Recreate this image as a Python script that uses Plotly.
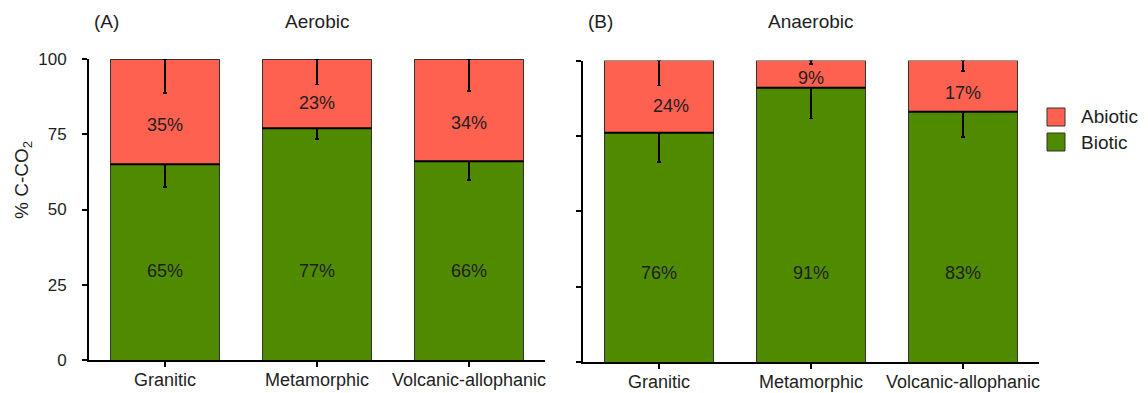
import plotly.graph_objects as go

# Soil types and CO2 partition (% of C-CO2) under each incubation condition
soils = ["Granitic", "Metamorphic", "Volcanic-allophanic"]

aerobic_biotic = [65, 77, 66]
aerobic_abiotic = [35, 23, 34]
aerobic_biotic_err = [7.5, 3.6, 6.2]
aerobic_abiotic_err = [11.3, 8.4, 10.6]

anaerobic_biotic = [76, 91, 83]
anaerobic_abiotic = [24, 9, 17]
anaerobic_biotic_err = [9.6, 10.3, 8.4]
anaerobic_abiotic_err = [8.3, 1.2, 3.4]

y_ticks = [0, 25, 50, 75, 100]

RED = "#FF6150"
GREEN = "#508A00"
TEXT = "#1e1e1e"
FONT = "Liberation Sans, Arial, sans-serif"
BAR_W = 0.72

W, H = 1148, 393


def px_x(p):
    return p / W


def px_y(p):
    return 1 - p / H


def text_ann(x, y, text, size, xref="paper", yref="paper", xanchor="center", **kw):
    return dict(x=x, y=y, xref=xref, yref=yref, text=text, showarrow=False,
                xanchor=xanchor, yanchor="middle",
                font=dict(size=size, color=TEXT, family=FONT), **kw)


panels = [
    dict(bio=aerobic_biotic, abio=aerobic_abiotic,
         bio_err=aerobic_biotic_err, abio_err=aerobic_abiotic_err,
         xa="x", ya="y", xd=[px_x(89), px_x(545)], yd=[px_y(360), px_y(59)],
         tag="(A)", title="Aerobic", shift=[0, 0, 0]),
    dict(bio=anaerobic_biotic, abio=anaerobic_abiotic,
         bio_err=anaerobic_biotic_err, abio_err=anaerobic_abiotic_err,
         xa="x2", ya="y2", xd=[px_x(583), px_x(1039)], yd=[px_y(362), px_y(60.5)],
         tag="(B)", title="Anaerobic", shift=[12, 0, 0]),
]

fig = go.Figure()
annotations = []
shapes = []

for p in panels:
    idx = list(range(len(soils)))
    fig.add_trace(go.Bar(
        x=idx, y=p["bio"], xaxis=p["xa"], yaxis=p["ya"], width=BAR_W,
        name="Biotic", showlegend=False,
        marker=dict(color=GREEN, line=dict(color="#333333", width=1)),
        error_y=dict(type="data", symmetric=False, array=[0] * 3,
                     arrayminus=p["bio_err"], color="black", thickness=1.5, width=2),
    ))
    fig.add_trace(go.Bar(
        x=idx, y=p["abio"], xaxis=p["xa"], yaxis=p["ya"], width=BAR_W,
        name="Abiotic", showlegend=False,
        marker=dict(color=RED, line=dict(color="#333333", width=1)),
        error_y=dict(type="data", symmetric=False, array=[0] * 3,
                     arrayminus=p["abio_err"], color="black", thickness=1.5, width=2),
    ))

    xref = p["xa"]
    yref = p["ya"]
    for i, (b, a) in enumerate(zip(p["bio"], p["abio"])):
        # boundary between biotic and abiotic segments
        shapes.append(dict(type="line", xref=xref, yref=yref,
                           x0=i - BAR_W / 2, x1=i + BAR_W / 2, y0=b, y1=b,
                           line=dict(color="black", width=2)))
        annotations.append(text_ann(i, 29.5, f"{b}%", 18, xref=xref, yref=yref))
        annotations.append(text_ann(i, b + 0.37 * a, f"{a}%", 18, xref=xref, yref=yref,
                                    xshift=p["shift"][i]))

    annotations.append(text_ann(p["xd"][0] + px_x(3), px_y(22), p["tag"], 19,
                                xanchor="left"))
    annotations.append(text_ann((p["xd"][0] + p["xd"][1]) / 2, px_y(22), p["title"], 19))

# y-axis title
annotations.append(text_ann(px_x(23), px_y(180), "% C-CO<sub>2</sub>", 19,
                            textangle=-90))

# legend
legend_items = [("Abiotic", RED, 117), ("Biotic", GREEN, 142)]
for label, color, yc in legend_items:
    shapes.append(dict(type="rect", xref="paper", yref="paper",
                       x0=px_x(1047), x1=px_x(1065), y0=px_y(yc + 9), y1=px_y(yc - 9),
                       fillcolor=color, line=dict(color="#333333", width=1)))
    annotations.append(text_ann(px_x(1079), px_y(yc), label, 19, xanchor="left"))

axis_common = dict(showgrid=False, zeroline=False, showline=True, automargin=False,
                   linecolor="black", linewidth=2, ticks="outside",
                   tickcolor="black", tickwidth=2, ticklen=5)

xaxis_cfg = dict(axis_common, range=[-0.5, 2.5], tickmode="array",
                 tickvals=list(range(len(soils))), ticktext=soils,
                 tickson="boundaries", ticklabelstandoff=-3,
                 tickfont=dict(size=18, color=TEXT, family=FONT))

fig.update_layout(
    template="none",
    width=W, height=H, barmode="stack",
    margin=dict(l=0, r=0, t=0, b=0, pad=0),
    paper_bgcolor="white", plot_bgcolor="white",
    showlegend=False,
    xaxis=dict(xaxis_cfg, domain=panels[0]["xd"], anchor="y"),
    xaxis2=dict(xaxis_cfg, domain=panels[1]["xd"], anchor="y2"),
    yaxis=dict(axis_common, domain=panels[0]["yd"], anchor="x", range=[0, 100],
               tickmode="array", tickvals=y_ticks, ticklabelstandoff=12,
               tickfont=dict(size=17, color=TEXT, family=FONT)),
    yaxis2=dict(axis_common, domain=panels[1]["yd"], anchor="x2", range=[0, 100],
                tickmode="array", tickvals=y_ticks, showticklabels=False),
    annotations=annotations,
    shapes=shapes,
)

fig.write_html("out.html")
